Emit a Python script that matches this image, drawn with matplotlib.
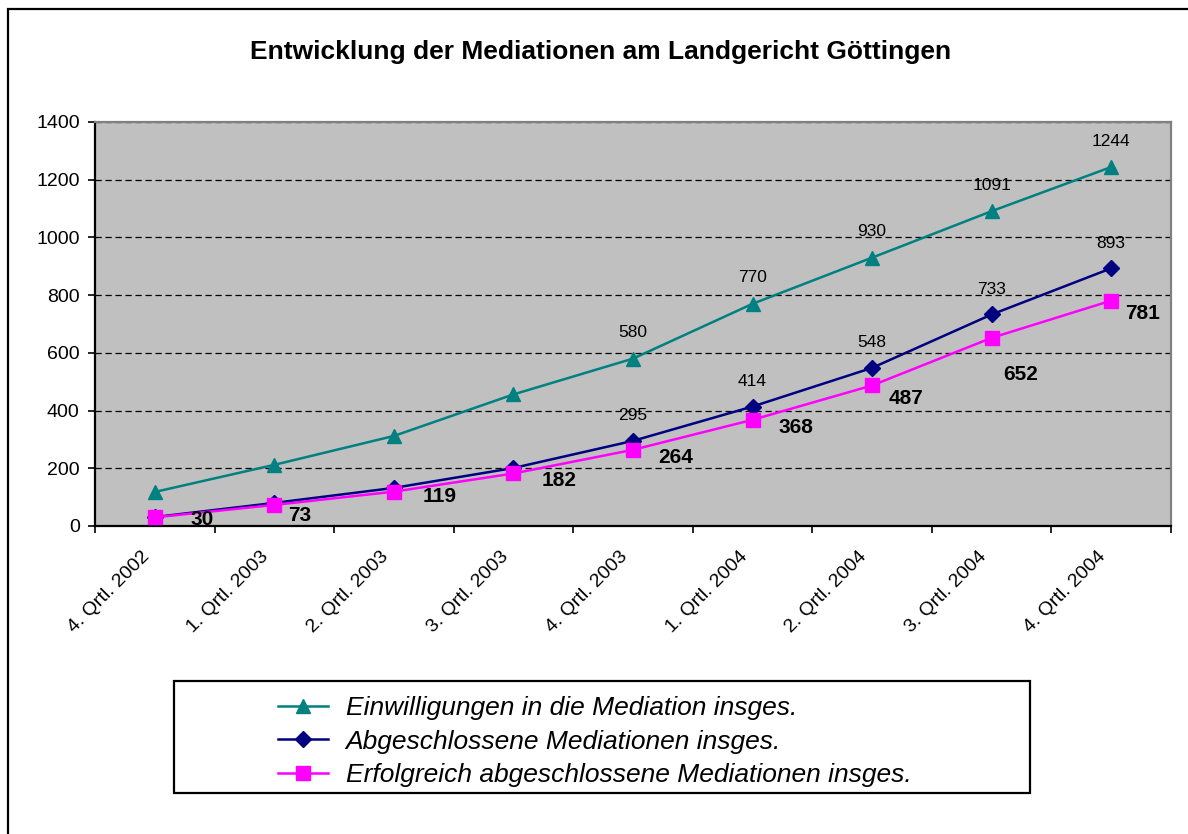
import numpy as np
import matplotlib.pyplot as plt
import matplotlib.transforms as mtransforms
from matplotlib.patches import Rectangle

plt.rcParams['font.family'] = ['Liberation Sans', 'DejaVu Sans']

# Daten
quartale = ['4. Qrtl. 2002', '1. Qrtl. 2003', '2. Qrtl. 2003', '3. Qrtl. 2003',
            '4. Qrtl. 2003', '1. Qrtl. 2004', '2. Qrtl. 2004', '3. Qrtl. 2004',
            '4. Qrtl. 2004']
einwilligungen = [118, 212, 312, 456, 580, 770, 930, 1091, 1244]
abgeschlossen = [31, 80, 132, 201, 295, 414, 548, 733, 893]
erfolgreich = [30, 73, 119, 182, 264, 368, 487, 652, 781]

# ab welchem Index Werte beschriftet werden
einw_label_ab = 4
abg_label_ab = 4

# Versatz der fetten Beschriftungen in Pixeln (rechts, unten)
erf_offsets = [(47, 2), (25, 11), (46, 5), (46, 7), (43, 8), (43, 8),
               (34, 13), (29, 37), (31, 13)]

W, H = 1188, 834
fig = plt.figure(figsize=(W / 100, H / 100), dpi=100)

# aeusserer Rahmen (rechts und unten ausserhalb des Bildes)
fig.patches.append(Rectangle((8 / W, -0.1), 2, 1 - 9 / H + 0.1,
                             transform=fig.transFigure, fill=False,
                             edgecolor='black', linewidth=1.6))

ax = fig.add_axes([95 / W, 1 - 526 / H, (1171 - 95) / W, (526 - 122) / H])
ax.set_facecolor('#C0C0C0')

x = np.arange(len(quartale))
ax.plot(x, einwilligungen, color='#008080', lw=1.8, marker='^', ms=10.5,
        label='Einwilligungen in die Mediation insges.', zorder=3)
ax.plot(x, abgeschlossen, color='#000080', lw=1.8, marker='D', ms=8,
        label='Abgeschlossene Mediationen insges.', zorder=4)
ax.plot(x, erfolgreich, color='#FF00FF', lw=1.8, marker='s', ms=9.5,
        label='Erfolgreich abgeschlossene Mediationen insges.', zorder=5)

px = 72 / 100
for i in range(einw_label_ab, len(x)):
    ax.annotate(str(einwilligungen[i]), (x[i], einwilligungen[i]),
                xytext=(0, 26 * px), textcoords='offset points',
                ha='center', va='center', fontsize=12.5, zorder=6)
for i in range(abg_label_ab, len(x)):
    ax.annotate(str(abgeschlossen[i]), (x[i], abgeschlossen[i]),
                xytext=(0, 25 * px), textcoords='offset points',
                ha='center', va='center', fontsize=12.5, zorder=6)
for i in range(len(x)):
    dx, dy = erf_offsets[i]
    ax.annotate(str(erfolgreich[i]), (x[i], erfolgreich[i]),
                xytext=(dx * px, -dy * px), textcoords='offset points',
                ha='center', va='center', fontsize=15, fontweight='bold',
                zorder=6)

ax.set_xlim(-0.5, len(x) - 0.5)
ax.set_ylim(0, 1400)
ax.set_yticks(np.arange(0, 1401, 200))
ax.yaxis.grid(True, color='black', linestyle=(0, (5, 3)), linewidth=0.9)
ax.set_axisbelow(True)

ax.set_xticks(x)
ax.set_xticklabels(quartale, rotation=45, ha='right', va='top',
                   rotation_mode='anchor', fontsize=14)
ax.set_xticks(np.arange(-0.5, len(x)), minor=True)
ax.tick_params(axis='x', which='major', length=0, pad=16)
ax.tick_params(axis='x', which='minor', length=5, width=1.2, direction='out')
ax.tick_params(axis='y', length=5, width=1.2, direction='out', pad=6,
               labelsize=14)
shift = mtransforms.ScaledTranslation(-14 / 100, 0, fig.dpi_scale_trans)
for lab in ax.get_xticklabels():
    lab.set_transform(lab.get_transform() + shift)

for s in ['left', 'bottom']:
    ax.spines[s].set_color('black')
    ax.spines[s].set_linewidth(1.6)
for s in ['top', 'right']:
    ax.spines[s].set_color('#808080')
    ax.spines[s].set_linewidth(1.6)

fig.text(601 / W, 1 - 52 / H, 'Entwicklung der Mediationen am Landgericht Göttingen',
         ha='center', va='center', fontsize=19, fontweight='bold')

# Legende mit eigenem Kasten
fig.patches.append(Rectangle((174 / W, 1 - 793 / H), (1030 - 174) / W, (793 - 681) / H,
                             transform=fig.transFigure, facecolor='white',
                             edgecolor='black', linewidth=1.6))
leg = fig.legend(loc='upper left', bbox_to_anchor=(278 / W, 1 - 696 / H),
                 frameon=False, borderpad=0, borderaxespad=0, numpoints=1,
                 handlelength=1.9, handletextpad=0.66, labelspacing=0.36,
                 prop={'size': 19, 'style': 'italic'})

fig.savefig('out.png', dpi=100)
